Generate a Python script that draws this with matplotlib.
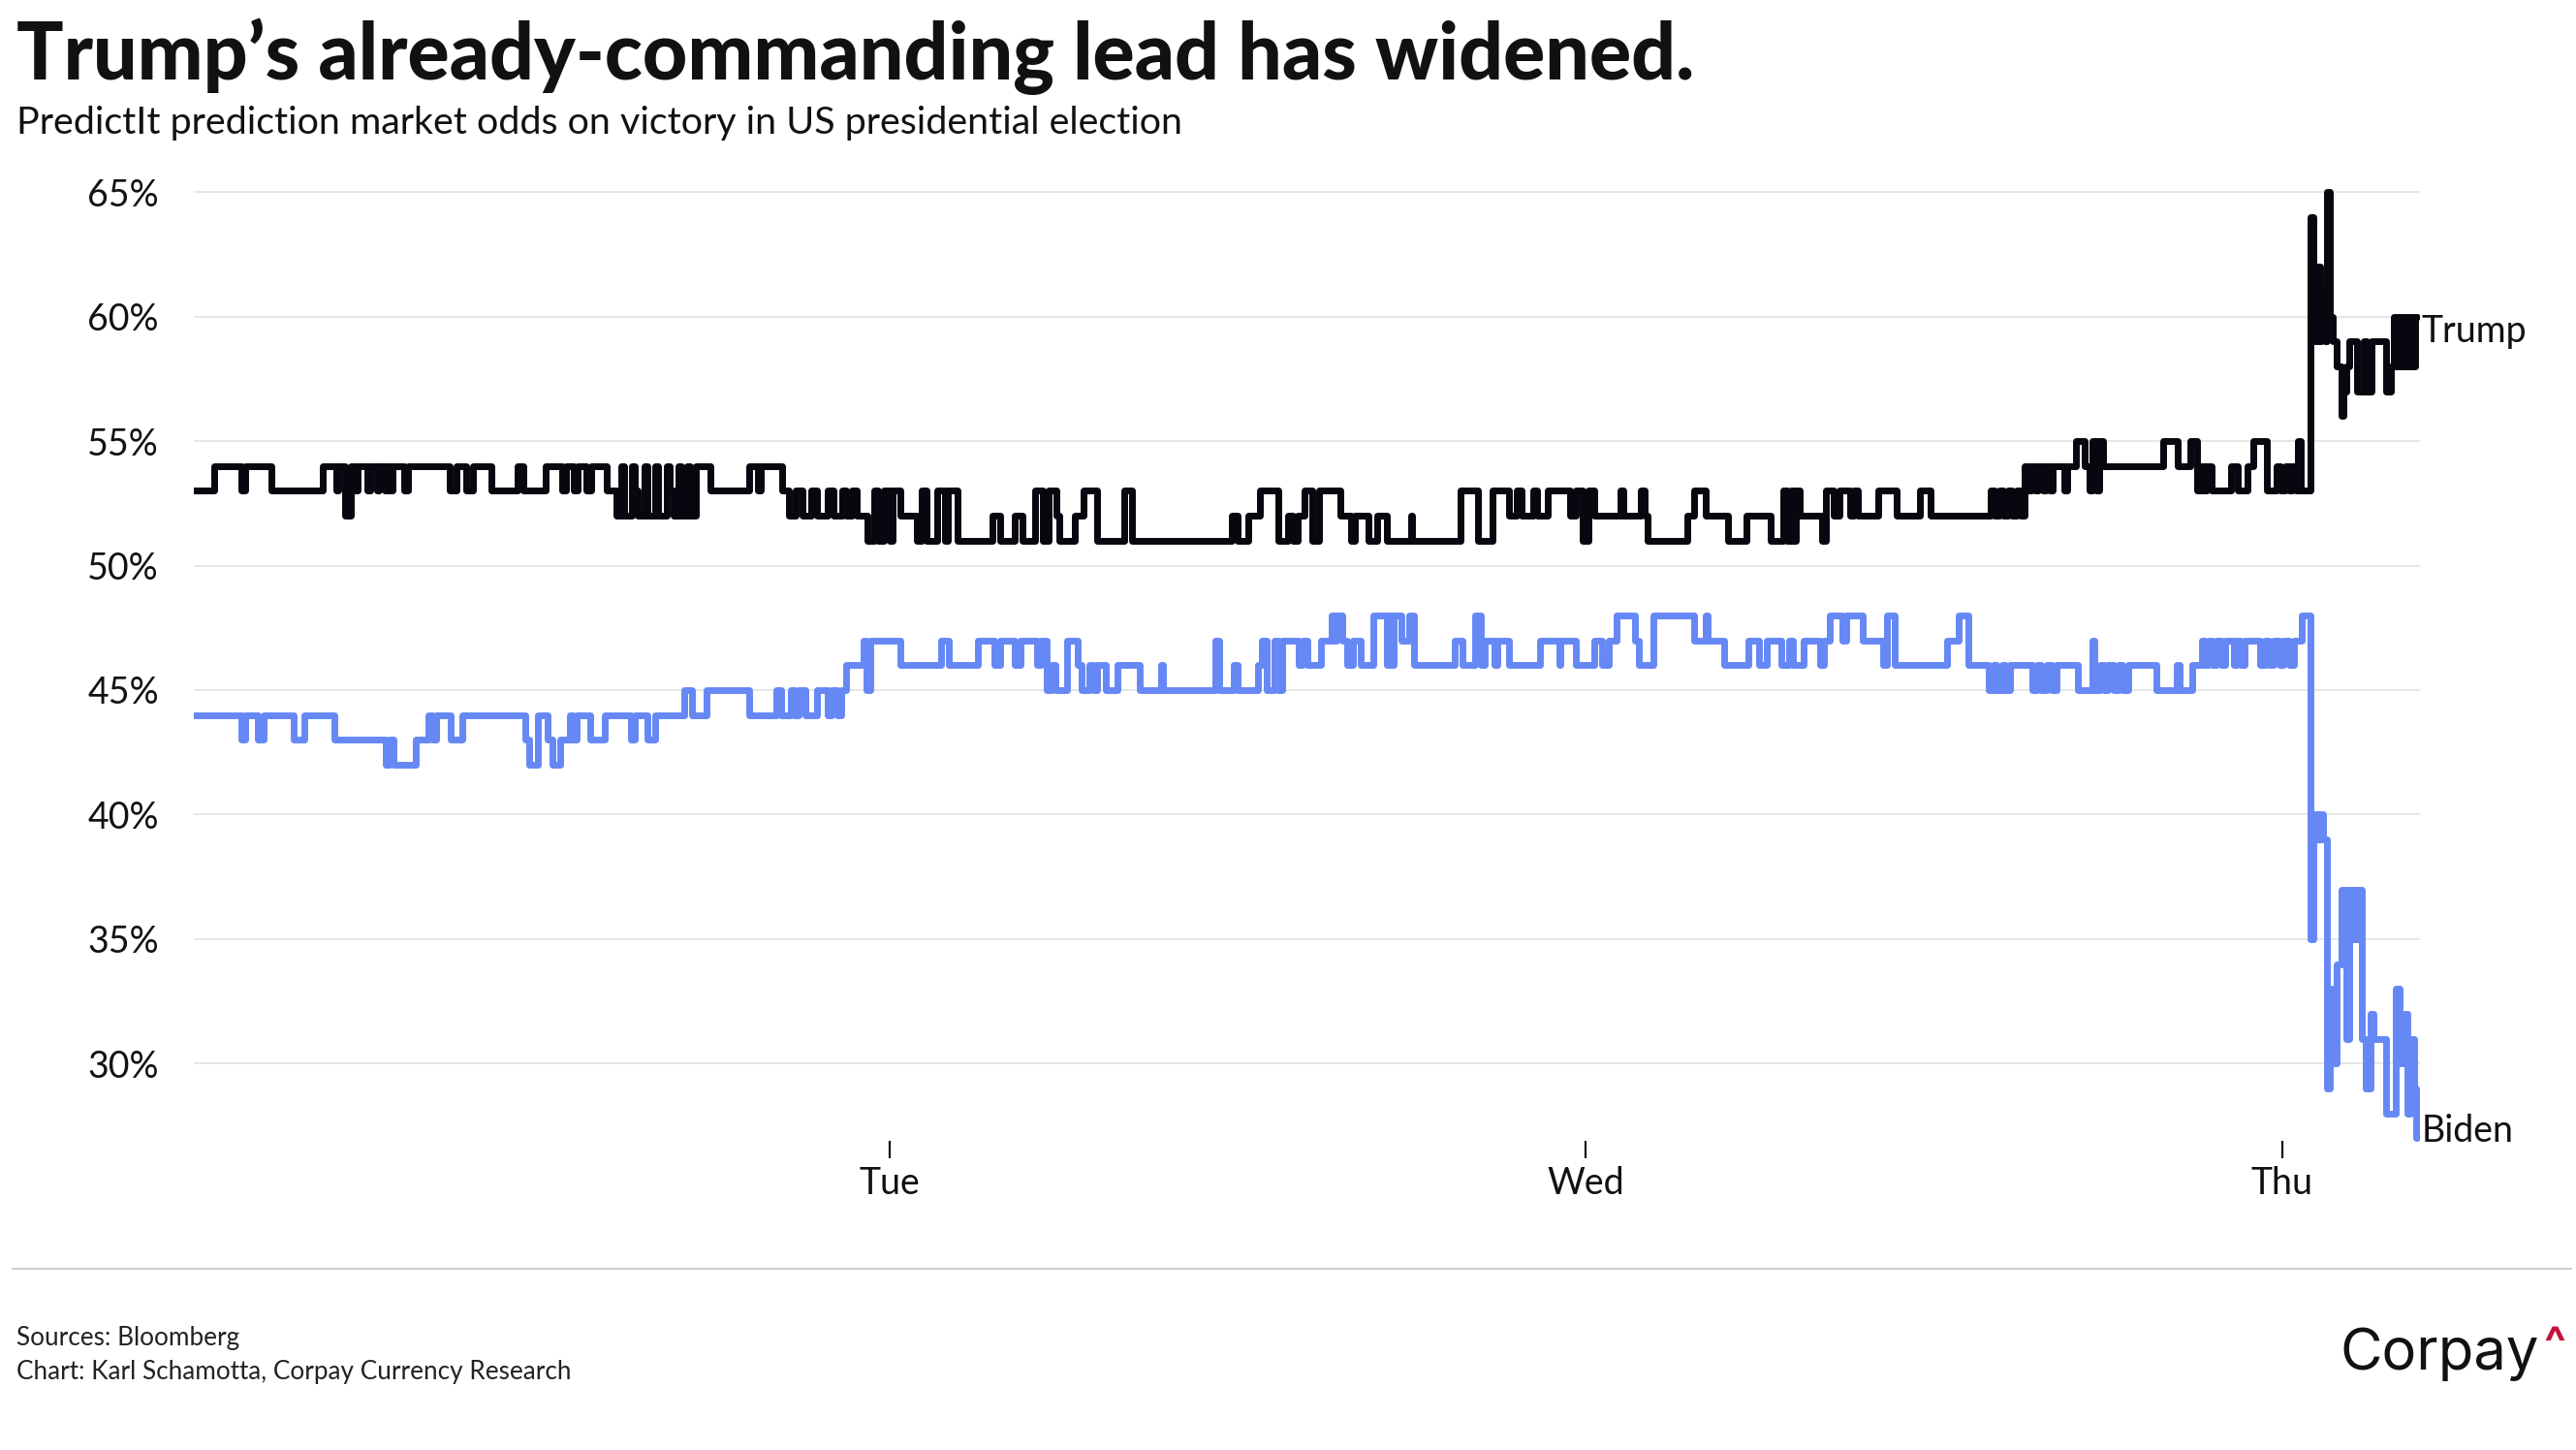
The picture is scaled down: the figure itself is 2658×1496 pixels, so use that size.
import matplotlib
matplotlib.use("Agg")
import matplotlib.pyplot as plt
from matplotlib.lines import Line2D

# hours since Monday 00:00 where the quoted odds changed, and the new value (%)
trump_t = [0, 0.69, 1.65, 1.78, 2.67, 4.46, 4.91, 4.97, 5.23, 5.42, 5.55, 5.65, 5.99, 6.08,
           6.31, 6.40, 6.57, 6.65, 6.76, 6.85, 7.25, 7.40, 8.81, 9.06, 9.38, 9.64, 10.27,
           11.17, 11.36, 12.13, 12.70, 12.85, 13.10, 13.25, 13.55, 13.70, 14.24, 14.56,
           14.75, 14.85, 15.10, 15.20, 15.30, 15.55, 15.65, 15.90, 16.00, 16.30, 16.40,
           16.55, 16.70, 16.80, 17.00, 17.10, 17.30, 17.82, 19.16, 19.45, 19.56, 20.27,
           20.52, 20.75, 21.00, 21.30, 21.50, 21.85, 22.05, 22.35, 22.50, 22.70, 22.85,
           23.21, 23.45, 23.60, 23.80, 24.00, 24.10, 24.36, 24.93, 25.10, 25.25, 25.64,
           25.90, 26.00, 26.34, 27.55, 27.81, 28.32, 28.58, 29.02, 29.28, 29.47, 29.73,
           29.85, 30.37, 30.68, 31.13, 32.09, 32.35, 35.80, 35.99, 36.37, 36.76, 37.40,
           37.72, 37.91, 38.05, 38.29, 38.55, 38.80, 39.53, 39.91, 40.04, 40.49, 40.81,
           41.12, 41.96, 42.02, 43.68, 44.26, 44.77, 45.34, 45.60, 45.79, 46.17, 46.30,
           46.68, 47.45, 47.64, 47.90, 48.09, 48.28, 49.18, 49.30, 49.88, 50.01, 50.13,
           51.48, 51.73, 52.12, 52.88, 53.52, 54.35, 54.80, 54.95, 55.06, 55.15, 55.25,
           55.37, 56.14, 56.27, 56.55, 56.75, 57.10, 57.25, 57.36, 58.06, 58.70, 59.50,
           59.89, 61.95, 62.10, 62.25, 62.40, 62.55, 62.70, 62.85, 63.00, 63.12, 63.25,
           63.35, 63.50, 63.60, 63.75, 63.85, 64.00, 64.10, 64.50, 64.60, 64.90, 65.18,
           65.35, 65.45, 65.60, 65.70, 65.82, 67.91, 68.41, 68.85, 69.08, 69.20, 69.30,
           69.40, 69.58, 70.24, 70.47, 70.80, 71.02, 71.47, 71.80, 71.95, 72.10, 72.25,
           72.35, 72.47, 72.55, 72.64, 72.97, 73.09, 73.20, 73.31, 73.36, 73.42, 73.48,
           73.54, 73.65, 73.76, 73.87, 74.04, 74.10, 74.20, 74.31, 74.59, 74.65, 74.80,
           74.90, 75.09, 75.59, 75.76, 75.85, 75.95, 76.05, 76.15, 76.25, 76.35, 76.45,
           76.55, 76.60, 76.65]
trump_v = [53, 54, 53, 54, 53, 54, 53, 54, 52, 54, 53, 54, 53, 54,
           53, 54, 53, 54, 53, 54, 53, 54, 53, 54, 53, 54, 53,
           54, 53, 54, 53, 54, 53, 54, 53, 54, 53, 52,
           54, 52, 54, 53, 52, 54, 52, 54, 52, 54, 53,
           52, 54, 52, 54, 52, 54, 53, 54, 53, 54, 53,
           52, 53, 52, 53, 52, 53, 52, 53, 52, 53, 52,
           51, 53, 51, 53, 51, 53, 52, 51, 53, 51, 53,
           51, 53, 51, 52, 51, 52, 51, 53, 51, 53, 52,
           51, 52, 53, 51, 53, 51, 52, 51, 52, 53, 51,
           52, 51, 52, 53, 51, 53, 52, 51, 52, 51, 52,
           51, 52, 51, 53, 51, 53, 52, 53, 52, 53, 52,
           53, 52, 53, 51, 53, 52, 53, 52, 53, 52, 51,
           52, 53, 52, 51, 52, 51, 53, 51, 53, 51, 53,
           52, 51, 53, 52, 53, 52, 53, 52, 53, 52, 53,
           52, 53, 52, 53, 52, 53, 52, 53, 52, 54, 53,
           54, 53, 54, 53, 54, 53, 54, 53, 54, 55, 54,
           53, 55, 53, 55, 54, 55, 54, 55, 53, 54, 53,
           54, 53, 54, 53, 54, 55, 53, 54, 53, 54, 53,
           54, 53, 55, 53, 64, 59, 62, 59, 60, 61, 59,
           65, 60, 59, 58, 56, 57, 58, 59, 57, 57, 59,
           57, 59, 57, 58, 60, 58, 60, 58, 60, 58, 60,
           58, 60, 60]

biden_t = [0, 1.65, 1.78, 2.22, 2.41, 3.44, 3.82, 4.84, 6.63, 6.76, 6.89, 7.65, 8.10, 8.23,
           8.36, 8.87, 9.25, 11.42, 11.55, 11.87, 12.19, 12.38, 12.64, 12.96, 13.08, 13.21,
           13.66, 14.17, 15.07, 15.19, 15.64, 15.90, 16.92, 17.17, 17.69, 19.16, 20.07,
           20.26, 20.58, 20.71, 20.84, 21.10, 21.48, 21.86, 21.99, 22.18, 22.31, 22.50,
           23.08, 23.20, 23.33, 24.35, 25.76, 26.02, 27.04, 27.61, 27.80, 28.32, 28.51,
           29.08, 29.21, 29.40, 29.59, 29.72, 30.11, 30.49, 30.62, 30.87, 31.00, 31.13,
           31.45, 31.83, 32.60, 33.36, 33.43, 35.22, 35.35, 35.86, 35.98, 36.69, 36.81,
           37.00, 37.26, 37.40, 37.52, 38.09, 38.22, 38.41, 38.86, 39.24, 39.30, 39.40,
           39.59, 39.78, 39.97, 40.23, 40.68, 41.12, 41.20, 41.30, 41.38, 41.64, 41.89,
           42.08, 43.49, 43.74, 44.19, 44.38, 44.50, 44.83, 44.96, 45.34, 46.43, 47.07,
           47.13, 47.64, 48.28, 48.54, 48.79, 49.05, 49.69, 49.82, 50.33, 51.73, 52.12,
           52.18, 52.75, 53.59, 53.97, 54.22, 54.74, 54.99, 55.12, 55.50, 56.08, 56.21,
           56.40, 56.84, 56.97, 57.55, 58.25, 58.38, 58.63, 60.45, 60.84, 61.17, 61.90,
           62.05, 62.15, 62.35, 62.45, 62.62, 63.40, 63.55, 63.68, 63.90, 64.05, 64.23,
           64.96, 65.46, 65.51, 65.74, 65.85, 66.01, 66.20, 66.35, 66.50, 66.68, 67.68,
           68.35, 68.46, 68.91, 69.24, 69.35, 69.46, 69.60, 69.75, 69.91, 70.05, 70.35,
           70.45, 70.58, 70.70, 71.25, 71.40, 71.55, 71.70, 71.91, 72.05, 72.25, 72.40,
           72.69, 72.98, 73.09, 73.20, 73.30, 73.42, 73.54, 73.65, 73.72, 73.76, 73.87,
           74.04, 74.20, 74.31, 74.40, 74.48, 74.56, 74.65, 74.76, 74.87, 75.04, 75.15,
           75.59, 75.93, 76.04, 76.21, 76.32, 76.43, 76.54, 76.62, 76.65]
biden_v = [44, 43, 44, 43, 44, 43, 44, 43, 42, 43, 42, 43, 44, 43,
           44, 43, 44, 43, 42, 44, 43, 42, 43, 44, 43, 44,
           43, 44, 43, 44, 43, 44, 45, 44, 45, 44, 45,
           44, 45, 44, 45, 44, 45, 44, 45, 44, 45, 46,
           47, 45, 47, 46, 47, 46, 47, 46, 47, 46, 47,
           46, 47, 45, 46, 45, 47, 46, 45, 46, 45, 46,
           45, 46, 45, 46, 45, 47, 45, 46, 45, 46, 47,
           45, 47, 45, 47, 46, 47, 46, 47, 48, 47, 48,
           47, 46, 47, 46, 48, 46, 48, 46, 48, 47, 48,
           46, 47, 46, 48, 46, 47, 46, 47, 46, 47, 46,
           47, 46, 47, 46, 47, 48, 47, 46, 48, 47, 48,
           47, 46, 47, 46, 47, 46, 47, 46, 47, 46, 47,
           48, 47, 48, 47, 46, 48, 46, 47, 48, 46, 45,
           46, 45, 46, 45, 46, 45, 46, 45, 46, 45, 46,
           45, 47, 45, 46, 45, 46, 45, 46, 45, 46, 45,
           46, 45, 46, 47, 46, 47, 46, 47, 46, 47, 46,
           47, 46, 47, 46, 47, 46, 47, 46, 47, 46, 47,
           48, 35, 40, 39, 40, 39, 29, 30, 33, 30, 34,
           37, 31, 37, 35, 37, 35, 37, 31, 29, 32, 31,
           28, 33, 30, 32, 28, 31, 29, 27, 27]

day_ticks = [24, 48, 72]
day_labels = ["Tue", "Wed", "Thu"]
y_ticks = [30, 35, 40, 45, 50, 55, 60, 65]

TRUMP_C = "#07070f"
BIDEN_C = "#6688f5"
FONT = "Lato"

fig = plt.figure(figsize=(26.58, 14.96), dpi=100)
ax = fig.add_axes([0.0752, 0.2012, 0.8642, 0.6698])

for y in y_ticks:
    ax.axhline(y, color="#e3e3e3", lw=1.2, zorder=0)

ax.step(biden_t, biden_v, where="post", color=BIDEN_C, lw=5,
        solid_joinstyle="round", solid_capstyle="round", zorder=2)
ax.step(trump_t, trump_v, where="post", color=TRUMP_C, lw=5,
        solid_joinstyle="round", solid_capstyle="round", zorder=3)

ax.set_xlim(0, 76.75)
ax.set_ylim(26.2, 65.2)
ax.set_yticks(y_ticks)
ax.set_yticklabels([f"{v}%" for v in y_ticks], fontsize=27, family=FONT, color="#111111")
ax.set_xticks(day_ticks)
ax.set_xticklabels(day_labels, fontsize=27, family=FONT, color="#111111")
ax.tick_params(axis="y", length=0, pad=26)
ax.tick_params(axis="x", direction="in", length=13, width=1.6, color="#111111", pad=6)
for s in ax.spines.values():
    s.set_visible(False)

ax.text(trump_t[-1] + 0.15, 59.4, "Trump", fontsize=27, family=FONT,
        color="#111111", va="center", ha="left")
ax.text(trump_t[-1] + 0.15, 27.3, "Biden", fontsize=27, family=FONT,
        color="#111111", va="center", ha="left")

fig.text(0.0064, 0.9455, "Trump\u2019s already-commanding lead has widened.",
         fontsize=58, fontweight="black", family=FONT, color="#111111", va="baseline")
fig.text(0.0064, 0.9075, "PredictIt prediction market odds on victory in US presidential election",
         fontsize=28.4, family=FONT, color="#111111", va="baseline")

fig.add_artist(Line2D([0.005, 0.998], [0.125, 0.125], color="#cfcfcf", lw=1.5,
                      transform=fig.transFigure))

fig.text(0.0064, 0.0769, "Sources: Bloomberg", fontsize=18.8, family=FONT,
         color="#222222", va="center")
fig.text(0.0064, 0.0541, "Chart: Karl Schamotta, Corpay Currency Research", fontsize=18.8,
         family=FONT, color="#222222", va="center")

fig.text(0.9085, 0.066, "Corpay", fontsize=43, family="Inter", color="#111111", va="center")
fig.text(0.9875, 0.071, "^", fontsize=34, family="Inter", fontweight="bold",
         color="#c3123a", va="center")

fig.savefig("out.png", dpi=100, facecolor="white")
